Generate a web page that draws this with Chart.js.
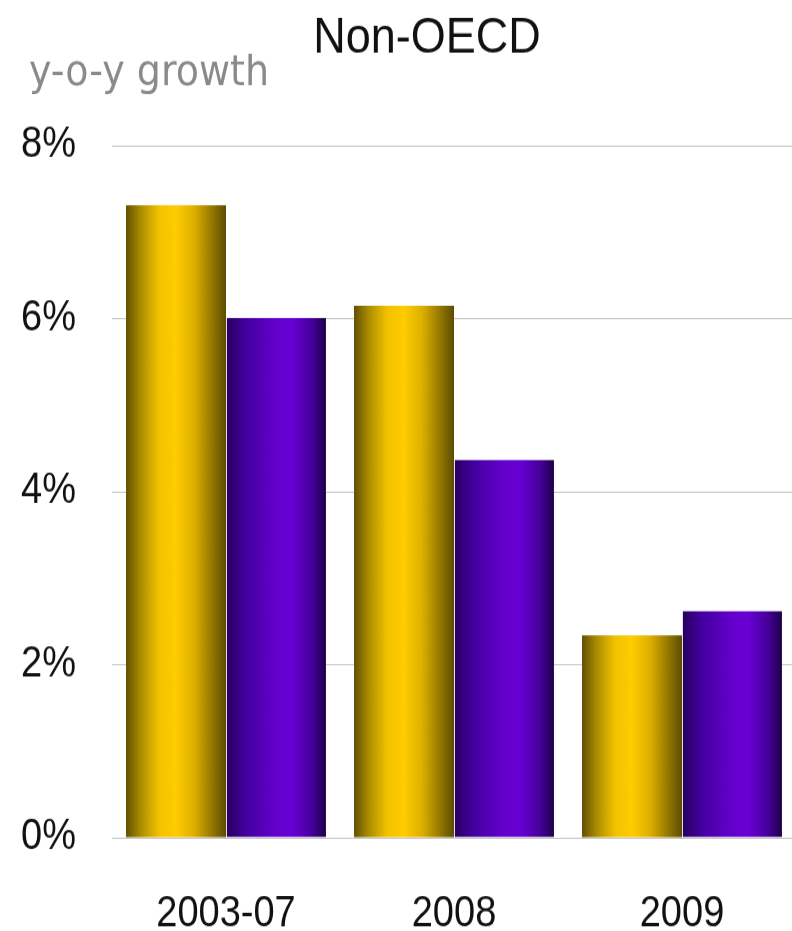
<!DOCTYPE html>
<html>
<head>
<meta charset="utf-8">
<script src="https://cdn.jsdelivr.net/npm/chart.js@4/dist/chart.umd.min.js"></script>
<style>
  html, body {
    margin: 0;
    padding: 0;
    background: #fff;
    overflow: hidden;
  }

  .frame {
    width: 792px;
    height: 931px;
    overflow: hidden;
  }

  /* the source picture is a little stretched vertically */
  .stretch {
    width: 800px;
    height: 831px;
    transform: scale(1, 1.12);
    transform-origin: 0 0;
  }
</style>
</head>
<body>
<div class="frame">
  <div class="stretch">
    <canvas id="chart" width="800" height="831"></canvas>
  </div>
</div>
<script>
const categories = ["2003-07", "2008", "2009"];
const goldValues = [7.31, 6.15, 2.34];
const purpleValues = [6.01, 4.37, 2.62];
const yTicks = [0, 2, 4, 6, 8];

const titleText = "Non-OECD";
const unitText = "y-o-y growth";

const CATEGORY_PCT = 0.877;

const goldStops = [
  [0, "#615000"],
  [0.14, "#a88a00"],
  [0.33, "#f2c200"],
  [0.5, "#ffcc00"],
  [0.68, "#deb000"],
  [0.88, "#8c7200"],
  [1, "#5c4c00"],
];

const purpleStops = [
  [0, "#26005e"],
  [0.2, "#4400a0"],
  [0.5, "#6400cc"],
  [0.66, "#6800d4"],
  [0.86, "#46009a"],
  [1, "#1f004a"],
];

// horizontal gradient across each bar, computed from the x scale
function barGradient(stops, side) {

  return ctx => {

    const chart = ctx.chart;
    const xScale = chart.scales.x;
    const fallback = stops[3][1];
    if (ctx.type !== "data" || !xScale) return fallback;

    const center = xScale.getPixelForValue(ctx.dataIndex);
    const catWidth = xScale.width / categories.length;
    if (!Number.isFinite(center) || !Number.isFinite(catWidth) || catWidth <= 0) return fallback;

    const barWidth = catWidth * CATEGORY_PCT / 2;
    const left = side === "left" ? center - barWidth : center;
    const gradient = chart.ctx.createLinearGradient(left, 0, left + barWidth, 0);
    stops.forEach(([offset, color]) => gradient.addColorStop(offset, color));
    return gradient;
  };
}

const headingPlugin = {
  id: "headings",
  afterDraw: chart => {

    const context = chart.ctx;
    context.save();
    context.fillStyle = "#111";
    context.font = "45px 'Liberation Sans', Arial, sans-serif";
    context.textAlign = "center";
    context.textBaseline = "alphabetic";
    context.fillText(titleText, 427, 47);

    context.fillStyle = "#8a8a8a";
    context.font = "38px 'DejaVu Sans', sans-serif";
    context.textAlign = "left";
    context.fillText(unitText, 29, 76);
    context.restore();
  },
};

new Chart(document.getElementById("chart"), {
  type: "bar",
  data: {
    labels: categories,
    datasets: [
      {
        label: "gold",
        data: goldValues,
        backgroundColor: barGradient(goldStops, "left"),
        borderWidth: 0,
      },
      {
        label: "purple",
        data: purpleValues,
        backgroundColor: barGradient(purpleStops, "right"),
        borderColor: "#eadcea",
        borderWidth: { left: 1, right: 0, top: 0, bottom: 0 },
        borderSkipped: false,
      },
    ],
  },
  options: {
    responsive: false,
    animation: false,
    devicePixelRatio: 1,
    layout: {
      padding: { top: 130, left: 21, right: 4, bottom: 0 },
    },
    datasets: {
      bar: {
        categoryPercentage: CATEGORY_PCT,
        barPercentage: 1,
      },
    },
    plugins: {
      legend: { display: false },
      title: { display: false },
      tooltip: { enabled: false },
    },
    scales: {
      x: {
        grid: { display: false },
        border: { display: false },
        afterFit: axis => {
          axis.height = 83;
        },
        ticks: {
          color: "#111",
          padding: 38,
          maxRotation: 0,
          font: { family: "'Liberation Sans', Arial, sans-serif", size: 38 },
        },
      },
      y: {
        min: 0,
        max: 8,
        afterBuildTicks: axis => {
          axis.ticks = yTicks.map(value => ({ value }));
        },
        afterFit: axis => {
          axis.width = 91;
        },
        grid: {
          color: "#c4c4c4",
          lineWidth: 1,
          drawTicks: false,
        },
        border: { display: false },
        ticks: {
          color: "#111",
          padding: 36,
          font: { family: "'Liberation Sans', Arial, sans-serif", size: 38 },
          callback: value => value + "%",
        },
      },
    },
  },
  plugins: [headingPlugin],
});
</script>
</body>
</html>
